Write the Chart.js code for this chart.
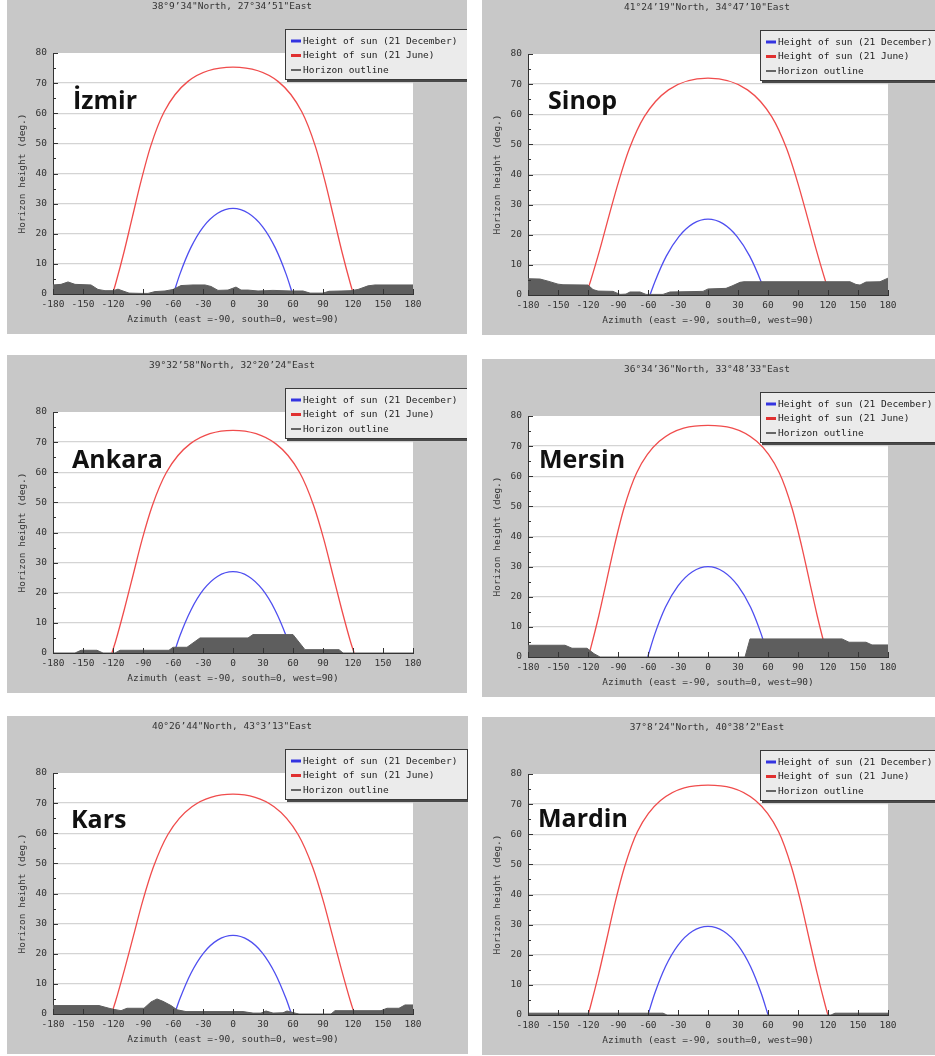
<!DOCTYPE html>
<html>
<head>
<meta charset="utf-8">
<script src="https://cdn.jsdelivr.net/npm/chart.js@4.4.0/dist/chart.umd.min.js"></script>
<style>
  html, body { margin: 0; padding: 0; background: #fff; }
  body { width: 935px; height: 1056px; position: relative; overflow: hidden; }
  .panel { position: absolute; background: #c8c8c8; overflow: hidden; }
  .panel canvas { display: block; }
</style>
</head>
<body>
<script>
// ---- data (azimuth deg, height deg) ----
const seriesLabels = ['Height of sun (21 December)', 'Height of sun (21 June)', 'Horizon outline'];
const azimuthTicks = [-180, -150, -120, -90, -60, -30, 0, 30, 60, 90, 120, 150, 180];
const heightTicks = [0, 10, 20, 30, 40, 50, 60, 70, 80];
const xTitle = 'Azimuth (east =-90, south=0, west=90)';
const yTitle = 'Horizon height (deg.)';

const cities = ['İzmir', 'Sinop', 'Ankara', 'Mersin', 'Kars', 'Mardin'];
const coords = [
  '38°9’34"North, 27°34’51"East',
  '41°24’19"North, 34°47’10"East',
  '39°32’58"North, 32°20’24"East',
  '36°34’36"North, 33°48’33"East',
  '40°26’44"North, 43°3’13"East',
  '37°8’24"North, 40°38’2"East'
];

const izmirJune = [[-120.4,0],[-117.4,3.4],[-108.8,14.2],[-100.6,25.6],[-92.1,37.3],[-82.3,49.1],[-68.8,60.5],[-45.3,70.5],[0,75.3],[45.3,70.5],[68.8,60.5],[82.3,49.1],[92.1,37.3],[100.6,25.6],[108.8,14.2],[117.4,3.4],[120.4,0]];
const izmirDecember = [[-59.6,0],[-53.1,6.6],[-42.3,15.3],[-29.7,22.3],[-15.4,26.8],[0,28.4],[15.4,26.8],[29.7,22.3],[42.3,15.3],[53.1,6.6],[59.6,0]];
const izmirHorizon = [[-180,3.0],[-172,3.2],[-165,4.0],[-158,3.2],[-142,3.0],[-135,1.5],[-128,1.1],[-120,1.1],[-115,1.6],[-110,1.0],[-104,0.3],[-92,0.2],[-85,0.2],[-78,0.8],[-68,1.0],[-60,1.5],[-52,2.8],[-40,3.0],[-28,3.0],[-22,2.5],[-15,1.2],[-5,1.3],[3,2.3],[8,1.3],[15,1.3],[25,1.0],[40,1.2],[58,1.0],[70,1.0],[77,0.3],[90,0.3],[96,0.9],[108,1.0],[118,1.1],[125,1.5],[135,2.7],[142,3.0],[180,3.0]];

const sinopJune = [[-122.0,0],[-117.2,4.9],[-108.0,15.3],[-99.1,26.2],[-89.6,37.4],[-78.6,48.6],[-63.7,59.2],[-39.5,68.1],[0,72.0],[39.5,68.1],[63.7,59.2],[78.6,48.6],[89.6,37.4],[99.1,26.2],[108.0,15.3],[117.2,4.9],[122.0,0]];
const sinopDecember = [[-58.0,0],[-52.9,4.6],[-41.7,12.9],[-29.1,19.4],[-15.0,23.7],[0,25.2],[15.0,23.7],[29.1,19.4],[41.7,12.9],[52.9,4.6],[58.0,0]];
const sinopHorizon = [[-180,5.4],[-168,5.3],[-160,4.6],[-150,3.6],[-145,3.4],[-120,3.3],[-115,1.8],[-110,1.3],[-95,1.2],[-88,0.2],[-82,0.3],[-78,1.0],[-68,1.0],[-62,0.2],[-45,0.2],[-38,1.0],[-5,1.2],[0,2.0],[18,2.2],[24,3.0],[32,4.2],[36,4.4],[142,4.4],[148,3.5],[152,3.3],[158,4.3],[172,4.4],[180,5.6]];

const ankaraJune = [[-121.1,0],[-117.3,4.0],[-108.5,14.7],[-99.9,25.9],[-91.1,37.4],[-80.7,48.9],[-66.5,60.0],[-42.6,69.5],[0,73.9],[42.6,69.5],[66.5,60.0],[80.7,48.9],[91.1,37.4],[99.9,25.9],[108.5,14.7],[117.3,4.0],[121.1,0]];
const ankaraDecember = [[-58.9,0],[-53.0,5.8],[-42.0,14.3],[-29.4,21.1],[-15.2,25.5],[0,27.0],[15.2,25.5],[29.4,21.1],[42.0,14.3],[53.0,5.8],[58.9,0]];
const ankaraHorizon = [[-180,0],[-158,0],[-152,0.9],[-136,0.9],[-130,0],[-118,0],[-113,0.9],[-64,0.9],[-60,1.9],[-46,1.9],[-33,5.0],[15,5.0],[20,6.1],[60,6.1],[72,1.1],[106,1.1],[110,0],[180,0]];

const mersinJune = [[-119.7,0],[-117.5,2.7],[-109.2,13.7],[-101.4,25.3],[-93.3,37.3],[-84.1,49.3],[-71.4,61.1],[-48.7,71.6],[0,76.9],[48.7,71.6],[71.4,61.1],[84.1,49.3],[93.3,37.3],[101.4,25.3],[109.2,13.7],[117.5,2.7],[119.7,0]];
const mersinDecember = [[-60.3,0],[-53.3,7.5],[-42.6,16.5],[-30.0,23.6],[-15.6,28.3],[0,30.0],[15.6,28.3],[30.0,23.6],[42.6,16.5],[53.3,7.5],[60.3,0]];
const mersinHorizon = [[-180,3.9],[-143,3.9],[-136,2.9],[-121,2.9],[-114,1.1],[-108,0],[37,0],[42,6.0],[134,6.0],[141,4.9],[158,4.9],[164,4.0],[180,4.0]];

const karsJune = [[-121.5,0],[-117.3,4.4],[-108.3,15.0],[-99.5,26.0],[-90.4,37.4],[-79.7,48.7],[-65.1,59.6],[-41.1,68.8],[0,73.0],[41.1,68.8],[65.1,59.6],[79.7,48.7],[90.4,37.4],[99.5,26.0],[108.3,15.0],[117.3,4.4],[121.5,0]];
const karsDecember = [[-58.5,0],[-52.9,5.2],[-41.9,13.6],[-29.3,20.3],[-15.1,24.6],[0,26.1],[15.1,24.6],[29.3,20.3],[41.9,13.6],[52.9,5.2],[58.5,0]];
const karsHorizon = [[-180,2.8],[-134,2.8],[-124,1.9],[-120,1.6],[-112,1.1],[-106,1.9],[-89,1.9],[-82,4.0],[-76,5.0],[-70,4.2],[-62,2.8],[-56,1.4],[-47,0.8],[10,0.8],[20,0.3],[28,0.3],[33,1.0],[40,0.3],[50,0.4],[54,1.0],[62,0.3],[66,0],[98,0],[102,1.1],[148,1.1],[154,1.9],[166,1.9],[172,3.0],[180,3.0]];

const mardinJune = [[-119.9,0],[-117.5,2.9],[-109.1,13.9],[-101.1,25.4],[-92.9,37.3],[-83.4,49.2],[-70.5,60.9],[-47.5,71.2],[0,76.3],[47.5,71.2],[70.5,60.9],[83.4,49.2],[92.9,37.3],[101.1,25.4],[109.1,13.9],[117.5,2.9],[119.9,0]];
const mardinDecember = [[-60.1,0],[-53.2,7.2],[-42.5,16.1],[-29.9,23.2],[-15.6,27.8],[0,29.4],[15.6,27.8],[29.9,23.2],[42.5,16.1],[53.2,7.2],[60.1,0]];
const mardinHorizon = [[-180,0.6],[-45,0.6],[-41,0],[123,0],[127,0.6],[180,0.6]];

const decemberSeries = [izmirDecember, sinopDecember, ankaraDecember, mersinDecember, karsDecember, mardinDecember];
const juneSeries = [izmirJune, sinopJune, ankaraJune, mersinJune, karsJune, mardinJune];
const horizonSeries = [izmirHorizon, sinopHorizon, ankaraHorizon, mersinHorizon, karsHorizon, mardinHorizon];

// ---- layout ----
const panelLayout = [
  { left: 7,   top: -4,  width: 460, labelDx: 20, labelDy: 56 },
  { left: 482, top: -3,  width: 453, labelDx: 20, labelDy: 55 },
  { left: 7,   top: 355, width: 460, labelDx: 19, labelDy: 56 },
  { left: 482, top: 359, width: 453, labelDx: 11, labelDy: 52 },
  { left: 7,   top: 716, width: 461, labelDx: 18, labelDy: 55 },
  { left: 482, top: 717, width: 453, labelDx: 10, labelDy: 53 }
];
const PANEL_H = 338;
const colors = { december: '#4e4ef0', june: '#f04c4c', horizon: '#5e5e5e', text: '#333' };
const monoFont = { family: '"DejaVu Sans Mono", monospace', size: 9.5 };
const toPoints = arr => arr.map(([x, y]) => ({ x, y }));

const plotBg = {
  id: 'plotBg',
  beforeDraw(chart) {
    const { ctx, chartArea: a } = chart;
    ctx.save();
    ctx.fillStyle = '#fff';
    ctx.fillRect(a.left, a.top, a.right - a.left, a.bottom - a.top);
    ctx.restore();
  }
};

const innerTicks = {
  id: 'innerTicks',
  afterDatasetsDraw(chart) {
    const { ctx, scales: { x, y } } = chart;
    ctx.save();
    ctx.strokeStyle = '#333';
    ctx.lineWidth = 1;
    ctx.beginPath();
    heightTicks.forEach((v, i) => {
      const py = Math.round(y.getPixelForValue(v)) + 0.5;
      ctx.moveTo(x.left, py); ctx.lineTo(x.left + 5, py);
      if (i < heightTicks.length - 1) {
        const pm = Math.round(y.getPixelForValue((v + heightTicks[i + 1]) / 2)) + 0.5;
        ctx.moveTo(x.left, pm); ctx.lineTo(x.left + 3, pm);
      }
    });
    azimuthTicks.forEach(v => {
      const px = Math.round(x.getPixelForValue(v)) + 0.5;
      ctx.moveTo(px, y.bottom); ctx.lineTo(px, y.bottom - 5);
    });
    ctx.stroke();
    ctx.restore();
  }
};

const panelText = {
  id: 'panelText',
  afterDraw(chart, args, opts) {
    const { ctx, chartArea: a } = chart;
    ctx.save();
    // title above the plot
    ctx.fillStyle = colors.text;
    ctx.font = `${monoFont.size}px ${monoFont.family}`;
    ctx.textAlign = 'center';
    ctx.textBaseline = 'middle';
    ctx.fillText(opts.title, (a.left + a.right) / 2 - 1, a.top - 46);
    // city name
    ctx.fillStyle = '#111';
    ctx.font = 'bold 25px "Open Sans", "Noto Sans", sans-serif';
    ctx.textAlign = 'left';
    ctx.textBaseline = 'alphabetic';
    ctx.fillText(opts.city, a.left + opts.dx, a.top + opts.dy);
    // legend box
    const bx = a.left + 232, by = a.top - 24, bw = 183, bh = 51;
    ctx.fillStyle = '#4a4a4a';
    ctx.fillRect(bx + 2, by + 2, bw, bh);
    ctx.fillStyle = '#ebebeb';
    ctx.fillRect(bx, by, bw, bh);
    ctx.strokeStyle = '#3a3a3a';
    ctx.lineWidth = 1;
    ctx.strokeRect(bx + 0.5, by + 0.5, bw - 1, bh - 1);
    ctx.font = `${monoFont.size}px ${monoFont.family}`;
    ctx.textBaseline = 'middle';
    chart.data.datasets.forEach((ds, i) => {
      const cy = by + 12 + i * 14.5;
      ctx.strokeStyle = ds.legendColor;
      ctx.lineWidth = i === 2 ? 2 : 3;
      ctx.beginPath();
      ctx.moveTo(bx + 6, cy); ctx.lineTo(bx + 16, cy);
      ctx.stroke();
      ctx.fillStyle = '#222';
      ctx.fillText(ds.label, bx + 18, cy + 0.5);
    });
    ctx.restore();
  }
};

cities.forEach((city, i) => {
  const lay = panelLayout[i];
  const div = document.createElement('div');
  div.className = 'panel';
  div.style.left = lay.left + 'px';
  div.style.top = lay.top + 'px';
  div.style.width = lay.width + 'px';
  div.style.height = PANEL_H + 'px';
  const canvas = document.createElement('canvas');
  canvas.width = lay.width;
  canvas.height = PANEL_H;
  div.appendChild(canvas);
  document.body.appendChild(div);

  new Chart(canvas.getContext('2d'), {
    type: 'line',
    data: {
      datasets: [
        { label: seriesLabels[0], data: toPoints(decemberSeries[i]), borderColor: colors.december, legendColor: '#3434e0',
          borderWidth: 1.3, pointRadius: 0, fill: false, cubicInterpolationMode: 'monotone', order: 1 },
        { label: seriesLabels[1], data: toPoints(juneSeries[i]), borderColor: colors.june, legendColor: '#e03030',
          borderWidth: 1.3, pointRadius: 0, fill: false, cubicInterpolationMode: 'monotone', order: 2 },
        { label: seriesLabels[2], data: toPoints(horizonSeries[i]), borderColor: colors.horizon, legendColor: '#666',
          backgroundColor: colors.horizon, borderWidth: 1, pointRadius: 0, fill: 'origin', tension: 0, order: 0 }
      ]
    },
    options: {
      responsive: false,
      animation: false,
      events: [],
      layout: { padding: { left: 6, top: 57, right: lay.width - 406, bottom: 0 } },
      plugins: {
        legend: { display: false },
        tooltip: { enabled: false },
        panelText: { title: coords[i], city, dx: lay.labelDx, dy: lay.labelDy }
      },
      scales: {
        x: {
          type: 'linear', min: -180, max: 180,
          afterBuildTicks: s => { s.ticks = azimuthTicks.map(v => ({ value: v })); },
          afterFit: s => { s.height = 40; },
          grid: { display: false, drawTicks: false },
          border: { display: true, color: '#333', width: 1 },
          ticks: { padding: 5, color: colors.text, font: monoFont, maxRotation: 0, autoSkip: false, callback: v => String(v) },
          title: { display: true, text: xTitle, color: colors.text, font: monoFont, padding: { top: 0, bottom: 9 } }
        },
        y: {
          min: 0, max: 80,
          afterBuildTicks: s => { s.ticks = heightTicks.map(v => ({ value: v })); },
          afterFit: s => { s.width = 40; },
          grid: {
            drawTicks: false,
            color: c => (c.tick && (c.tick.value === 0 || c.tick.value === 80)) ? 'rgba(0,0,0,0)' : '#d4d4d4',
            lineWidth: 1.3
          },
          border: { display: true, color: '#333', width: 1 },
          ticks: { padding: 6, color: colors.text, font: monoFont, callback: v => String(v) },
          title: { display: true, text: yTitle, color: colors.text, font: monoFont, padding: { top: 4, bottom: 0 } }
        }
      }
    },
    plugins: [plotBg, innerTicks, panelText]
  });
});
</script>
</body>
</html>
